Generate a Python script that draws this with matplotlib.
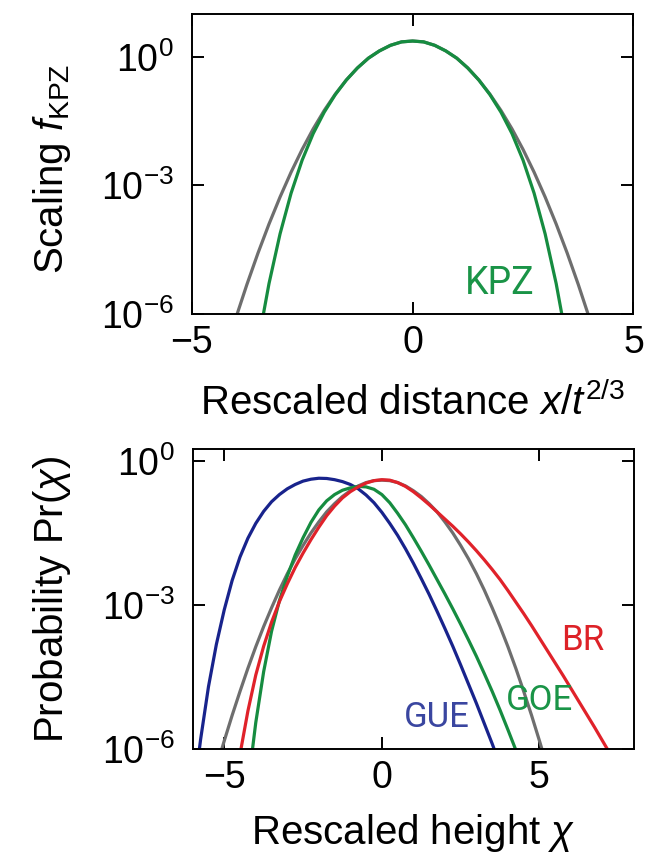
import matplotlib
matplotlib.use("Agg")
import matplotlib.pyplot as plt
import numpy as np
from matplotlib.ticker import NullLocator

plt.rcParams["font.family"] = ["Liberation Sans", "DejaVu Sans"]
plt.rcParams["mathtext.fontset"] = "custom"
plt.rcParams["mathtext.rm"] = "Liberation Sans"
plt.rcParams["mathtext.it"] = "Liberation Sans:italic"
plt.rcParams["mathtext.bf"] = "Liberation Sans:bold"

# ---- panel a: KPZ scaling function (log10 values) ----
x_top = np.linspace(-4.25, 4.25, 35)
gauss_top_log = [-6.93, -6.09, -5.31, -4.58, -3.90, -3.27, -2.69, -2.16, -1.68,
                 -1.25, -0.87, -0.54, -0.26, -0.03, 0.14, 0.27, 0.35, 0.37,
                 0.35, 0.27, 0.14, -0.03, -0.26, -0.54, -0.87, -1.25, -1.68,
                 -2.16, -2.69, -3.27, -3.90, -4.58, -5.31, -6.09, -6.93]
kpz_log = [-12.53, -10.29, -8.35, -6.69, -5.29, -4.13, -3.18, -2.41, -1.79,
           -1.29, -0.88, -0.54, -0.26, -0.03, 0.14, 0.27, 0.35, 0.37,
           0.35, 0.27, 0.14, -0.03, -0.26, -0.54, -0.88, -1.29, -1.79,
           -2.41, -3.18, -4.13, -5.29, -6.69, -8.35, -10.29, -12.53]

# ---- panel b: height distributions (log10 values) ----
x_gue = np.linspace(-6.0, 4.0, 41)
gue_log = [-7.1, -5.8, -4.7, -3.82, -3.1, -2.49, -2.0, -1.61, -1.3, -1.05,
           -0.85, -0.70, -0.58, -0.49, -0.42, -0.38, -0.36, -0.365, -0.39, -0.43,
           -0.49, -0.58, -0.71, -0.87, -1.07, -1.30, -1.55, -1.83, -2.13, -2.45,
           -2.78, -3.13, -3.49, -3.86, -4.25, -4.65, -5.05, -5.47, -5.89, -6.33,
           -6.77]

x_goe = np.linspace(-4.5, 4.5, 37)
goe_log = [-8.35, -6.78, -5.45, -4.39, -3.55, -2.91, -2.4, -1.96, -1.6, -1.28,
           -1.02, -0.83, -0.70, -0.61, -0.56, -0.53, -0.54, -0.59, -0.70, -0.87,
           -1.09, -1.33, -1.60, -1.88, -2.17, -2.47, -2.77, -3.08, -3.40, -3.73,
           -4.07, -4.43, -4.80, -5.19, -5.6, -6.02, -6.45]

x_br = np.linspace(-5.0, 7.5, 51)
br_log = [-8.41, -7.18, -6.11, -5.21, -4.46, -3.86, -3.36, -2.93, -2.56, -2.22,
          -1.92, -1.64, -1.38, -1.14, -0.94, -0.77, -0.64, -0.54, -0.46, -0.41,
          -0.39, -0.40, -0.45, -0.53, -0.64, -0.77, -0.91, -1.06, -1.21, -1.36,
          -1.52, -1.69, -1.87, -2.06, -2.26, -2.47, -2.70, -2.94, -3.18, -3.43,
          -3.69, -3.95, -4.21, -4.47, -4.74, -5.01, -5.28, -5.55, -5.83, -6.11,
          -6.39]

x_gauss = np.linspace(-5.25, 5.25, 43)
gauss_log = [-6.38, -5.83, -5.30, -4.80, -4.32, -3.87, -3.45, -3.06, -2.69, -2.35,
             -2.04, -1.76, -1.50, -1.27, -1.06, -0.89, -0.74, -0.62, -0.52, -0.45,
             -0.41, -0.40, -0.41, -0.45, -0.52, -0.62, -0.74, -0.89, -1.06, -1.27,
             -1.50, -1.76, -2.04, -2.35, -2.69, -3.06, -3.45, -3.87, -4.32, -4.80,
             -5.30, -5.83, -6.38]

GRAY = "#6e6e6e"
GREEN = "#168c40"
BLUE = "#18238c"
RED = "#e0222a"
LW = 2.3


def estilo(ax, xlim, ylim, xticks):
    ax.set_yscale("log")
    ax.set_xlim(*xlim)
    ax.set_ylim(*ylim)
    ax.set_xticks(xticks)
    ax.set_yticks([1e-6, 1e-3, 1e0])
    ax.yaxis.set_minor_locator(NullLocator())
    ax.tick_params(direction="in", length=8.5, width=1.4, top=True, right=True,
                   labelsize=27)
    ax.tick_params(axis="x", pad=8)
    ax.tick_params(axis="y", pad=13)
    for s in ax.spines.values():
        s.set_linewidth(1.4)


fig = plt.figure(figsize=(6.56, 8.55), dpi=100)

ax1 = fig.add_axes([0.2922, 0.6327, 0.6735, 0.3509])
ax1.plot(x_top, 10 ** np.array(gauss_top_log), color=GRAY, lw=LW)
ax1.plot(x_top, 10 ** np.array(kpz_log), color=GREEN, lw=LW)
estilo(ax1, (-5, 5), (1e-6, 1e1), [-5, 0, 5])
ax1.text(1.98, 10 ** -5.29, "KPZ", color="#1a9447", fontsize=27,
         family="Roboto", ha="center", va="center")
ax1.set_xlabel(r"Rescaled distance $x/t^{2/3}$", fontsize=29)
ax1.set_ylabel(r"Scaling $f_{\mathrm{KPZ}}$", fontsize=29)
ax1.xaxis.set_label_coords(0.5, -0.23)
ax1.yaxis.set_label_coords(-0.269, 0.485)

ax2 = fig.add_axes([0.2938, 0.1240, 0.6727, 0.3509])
ax2.plot(x_gauss, 10 ** np.array(gauss_log), color=GRAY, lw=LW)
ax2.plot(x_gue, 10 ** np.array(gue_log), color=BLUE, lw=LW)
ax2.plot(x_goe, 10 ** np.array(goe_log), color=GREEN, lw=LW)
ax2.plot(x_br, 10 ** np.array(br_log), color=RED, lw=LW)
estilo(ax2, (-6, 8), (1e-6, 10 ** 0.25), [-5, 0, 5])
ax2.text(1.75, 10 ** -5.34, "GUE", color="#3a46a0", fontsize=25,
         family="Roboto", ha="center", va="center")
ax2.text(5.0, 10 ** -5.0, "GOE", color="#1a9447", fontsize=25,
         family="Roboto", ha="center", va="center")
ax2.text(6.37, 10 ** -3.74, "BR", color="#dd2228", fontsize=25,
         family="Roboto", ha="center", va="center")
ax2.set_xlabel(r"Rescaled height $\chi$", fontsize=29)
ax2.set_ylabel(r"Probability Pr($\chi$)", fontsize=29)
ax2.xaxis.set_label_coords(0.5, -0.21)
ax2.yaxis.set_label_coords(-0.271, 0.5)

fig.savefig("out.png", dpi=100)
